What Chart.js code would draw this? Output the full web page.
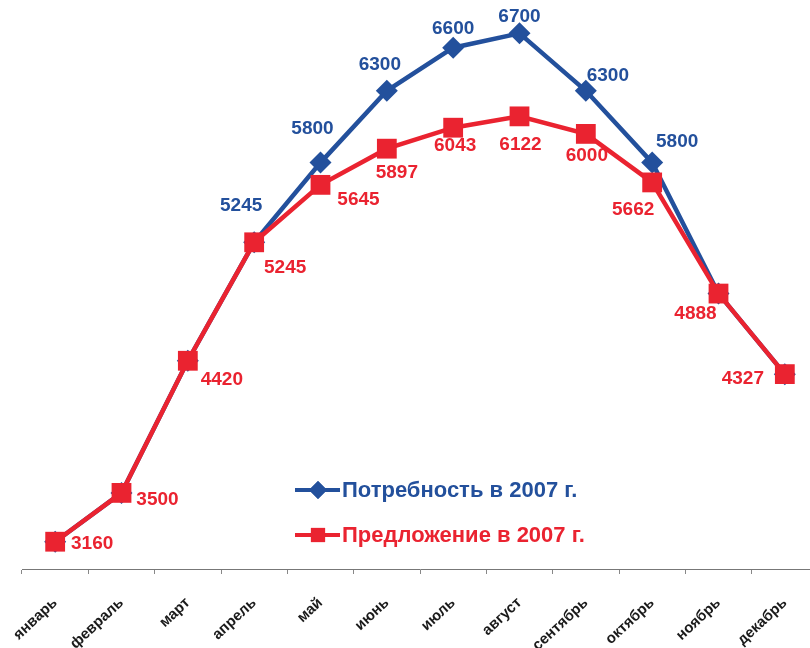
<!DOCTYPE html>
<html>
<head>
<meta charset="utf-8">
<script src="https://cdn.jsdelivr.net/npm/chart.js@4.4.0/dist/chart.umd.min.js"></script>
<style>
  html, body { margin: 0; padding: 0; background: #fff; }
  #wrap { width: 810px; height: 648px; overflow: hidden; position: relative; }
  #box { width: 840px; height: 648px; }
</style>
</head>
<body>
<div id="wrap"><div id="box"><canvas id="chart"></canvas></div></div>
<script>
// месяцы
const months = ['январь', 'февраль', 'март', 'апрель', 'май', 'июнь',
                'июль', 'август', 'сентябрь', 'октябрь', 'ноябрь', 'декабрь'];

// Потребность в 2007 г. (до апреля и после октября совпадает с предложением)
const demand = [3160, 3500, 4420, 5245, 5800, 6300, 6600, 6700, 6300, 5800, 4888, 4327];
// Предложение в 2007 г.
const supply = [3160, 3500, 4420, 5245, 5645, 5897, 6043, 6122, 6000, 5662, 4888, 4327];

// какие подписи у синей линии видны
const demandShown = [false, false, false, true, true, true, true, true, true, true, false, false];

const BLUE = '#23509c';
const RED = '#ea2330';

// смещения подписей относительно точек
const demandLabelOff = [[0,0],[0,0],[0,0],[-13,-37],[-8,-34],[-7,-26],[0,-19],[0,-17],[22,-15],[25,-21],[0,0],[0,0]];
const supplyLabelOff = [[37,2],[36,7],[34,19],[31,25],[38,15],[10,24],[2,18],[1,28],[1,22],[-19,27],[-23,20],[-42,5]];

const valueLabels = {
  id: 'valueLabels',
  afterDatasetsDraw(chart) {
    const ctx = chart.ctx;
    ctx.save();
    ctx.font = 'bold 19px "Liberation Sans", Arial, sans-serif';
    ctx.textAlign = 'center';
    ctx.textBaseline = 'middle';
    const blue = chart.getDatasetMeta(0).data;
    ctx.fillStyle = BLUE;
    blue.forEach((p, i) => {
      if (!demandShown[i]) return;
      ctx.fillText(String(demand[i]), p.x + demandLabelOff[i][0], p.y + demandLabelOff[i][1]);
    });
    const red = chart.getDatasetMeta(1).data;
    ctx.fillStyle = RED;
    red.forEach((p, i) => {
      ctx.fillText(String(supply[i]), p.x + supplyLabelOff[i][0], p.y + supplyLabelOff[i][1]);
    });
    ctx.restore();
  }
};

const innerLegend = {
  id: 'innerLegend',
  afterDraw(chart) {
    const ctx = chart.ctx;
    const items = [
      { text: 'Потребность в 2007 г.', color: BLUE, style: 'rectRot', r: 9, y: 490 },
      { text: 'Предложение в 2007 г.', color: RED, style: 'rect', r: 10, y: 535 }
    ];
    ctx.save();
    items.forEach(it => {
      ctx.strokeStyle = it.color;
      ctx.lineWidth = 4;
      ctx.beginPath();
      ctx.moveTo(295, it.y);
      ctx.lineTo(340, it.y);
      ctx.stroke();
      ctx.fillStyle = it.color;
      Chart.helpers.drawPoint(ctx, { pointStyle: it.style, radius: it.r, borderWidth: 0 }, 318, it.y);
      ctx.fill();
      ctx.font = 'bold 22px "Liberation Sans", Arial, sans-serif';
      ctx.textBaseline = 'middle';
      ctx.textAlign = 'left';
      ctx.fillText(it.text, 342, it.y + 1);
    });
    ctx.restore();
  }
};

new Chart(document.getElementById('chart'), {
  type: 'line',
  data: {
    labels: months,
    datasets: [
      {
        label: 'Потребность в 2007 г.',
        data: demand,
        borderColor: BLUE,
        backgroundColor: BLUE,
        borderWidth: 4.5,
        pointStyle: 'rectRot',
        pointRadius: 11,
        pointBorderWidth: 0,
        tension: 0,
        order: 1
      },
      {
        label: 'Предложение в 2007 г.',
        data: supply,
        borderColor: RED,
        backgroundColor: RED,
        borderWidth: 4.5,
        pointStyle: 'rect',
        pointRadius: 14,
        pointBorderWidth: 0,
        tension: 0,
        order: 0
      }
    ]
  },
  options: {
    responsive: true,
    maintainAspectRatio: false,
    animation: false,
    layout: { padding: { left: 22, right: 22, top: 19, bottom: 0 } },
    plugins: {
      legend: { display: false },
      tooltip: { enabled: false }
    },
    scales: {
      x: {
        offset: true,
        afterFit: s => { s.height = 79; s.paddingLeft = 0; s.paddingRight = 0; },
        grid: {
          display: true,
          drawOnChartArea: false,
          drawTicks: true,
          tickLength: 5,
          color: '#888',
          offset: true
        },
        border: { display: true, color: '#777', width: 1 },
        ticks: {
          color: '#1a1a1a',
          minRotation: 43,
          maxRotation: 43,
          padding: 20,
          font: { family: '"Liberation Sans", Arial, sans-serif', size: 15, weight: 'bold' }
        }
      },
      y: {
        display: false,
        min: 2970,
        max: 6800
      }
    }
  },
  plugins: [valueLabels, innerLegend]
});
</script>
</body>
</html>
